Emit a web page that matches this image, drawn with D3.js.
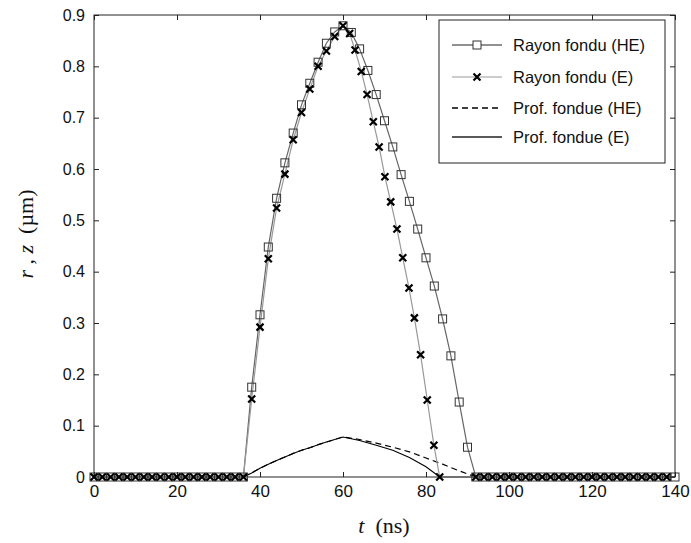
<!DOCTYPE html>
<html><head><meta charset="utf-8">
<script src="https://cdn.jsdelivr.net/npm/d3@7"></script>
<style>body{margin:0;background:#fff}</style>
</head><body><svg id="c" width="691" height="543"></svg>
<script>
// ---- data ----
const heTimes = [0,2,4,6,8,10,12,14,16,18,20,22,24,26,28,30,32,34,36,38,40,42,44,46,48,50,52,54,56,58,60,62,64,66,68,70,72,74,76,78,80,82,84,86,88,90,92,94,96,98,100,102,104,106,108,110,112,114,116,118,120,122,124,126,128,130,132,134,136,138,140];
const heRadius = [0,0,0,0,0,0,0,0,0,0,0,0,0,0,0,0,0,0,0,0.175,0.316,0.448,0.543,0.612,0.67,0.725,0.767,0.808,0.845,0.867,0.879,0.866,0.834,0.792,0.745,0.694,0.643,0.589,0.537,0.483,0.427,0.372,0.308,0.236,0.146,0.058,0,0,0,0,0,0,0,0,0,0,0,0,0,0,0,0,0,0,0,0,0,0,0,0,0];
const eTimes = [0,2,4,6,8,10,12,14,16,18,20,22,24,26,28,30,32,34,36,38,40,42,44,46,48,50,52,54,56,58,60,61.6,62.9,64.4,65.8,67.3,68.7,70.1,71.5,73.0,74.4,75.9,77.2,78.7,80.3,81.9,83.3,92,94,96,98,100,102,104,106,108,110,112,114,116,118,120,122,124,126,128,130,132,134,136,138,140];
const eRadius = [0,0,0,0,0,0,0,0,0,0,0,0,0,0,0,0,0,0,0,0.152,0.292,0.425,0.524,0.59,0.657,0.71,0.756,0.8,0.83,0.858,0.879,0.864,0.832,0.79,0.745,0.692,0.643,0.585,0.536,0.483,0.427,0.368,0.31,0.238,0.15,0.062,0,0,0,0,0,0,0,0,0,0,0,0,0,0,0,0,0,0,0,0,0,0,0,0,0];
const depthHETimes = [0,36,38,40,42,44,46,48,50,52,54,56,58,60,64,68,72,76,80,84,88,92,140];
const depthHE = [0,0,0.008,0.017,0.025,0.032,0.039,0.046,0.052,0.057,0.063,0.068,0.073,0.078,0.073,0.066,0.058,0.049,0.037,0.025,0.012,0,0];
const depthETimes = [0,36,38,40,42,44,46,48,50,52,54,56,58,60,64,68,72,76,80,83.3,140];
const depthE = [0,0,0.008,0.017,0.025,0.032,0.039,0.046,0.052,0.057,0.063,0.068,0.073,0.078,0.071,0.062,0.052,0.038,0.02,0,0];
const xTicks = [0,20,40,60,80,100,120,140];
const yTicks = [0,0.1,0.2,0.3,0.4,0.5,0.6,0.7,0.8,0.9];
const legendLabels = ["Rayon fondu (HE)","Rayon fondu (E)","Prof. fondue (HE)","Prof. fondue (E)"];

// ---- chart ----
const svg = d3.select("#c");
const L=94, R=675, T=15, B=477;
const x = d3.scaleLinear().domain([0,140]).range([L,R]);
const y = d3.scaleLinear().domain([0,0.9]).range([B,T]);
const font = "'Liberation Sans', Arial, sans-serif";

const g = svg.append("g");
g.append("rect").attr("x",L).attr("y",T).attr("width",R-L).attr("height",B-T)
 .attr("fill","none").attr("stroke","#222").attr("stroke-width",1);

const axB = g.append("g").attr("transform",`translate(0,${B})`)
  .call(d3.axisBottom(x).tickValues(xTicks).tickSize(-5).tickPadding(8).tickFormat(d3.format("d")));
const axT = g.append("g").attr("transform",`translate(0,${T})`)
  .call(d3.axisTop(x).tickValues(xTicks).tickSize(-5).tickFormat(""));
const axL = g.append("g").attr("transform",`translate(${L},0)`)
  .call(d3.axisLeft(y).tickValues(yTicks).tickSize(-5).tickPadding(9).tickFormat(d=>d===0?"0":d3.format(".1f")(d)));
const axR = g.append("g").attr("transform",`translate(${R},0)`)
  .call(d3.axisRight(y).tickValues(yTicks).tickSize(-5).tickFormat(""));
[axB,axT,axL,axR].forEach(a=>{
  a.select(".domain").remove();
  a.selectAll("line").attr("stroke","#222");
  a.selectAll("text").attr("font-family",font).attr("font-size",16).attr("fill","#111");
});
axB.selectAll("text").attr("font-size",17);

const line = d3.line().x(d=>x(d[0])).y(d=>y(d[1]));
const heData = heTimes.map((t,i)=>[t,heRadius[i]]);
const eData = eTimes.map((t,i)=>[t,eRadius[i]]);
const dHE = depthHETimes.map((t,i)=>[t,depthHE[i]]);
const dE = depthETimes.map((t,i)=>[t,depthE[i]]);

g.append("path").datum(dE).attr("d",line).attr("fill","none").attr("stroke","#000").attr("stroke-width",1.1);
g.append("path").datum(dHE).attr("d",line).attr("fill","none").attr("stroke","#000").attr("stroke-width",1.2).attr("stroke-dasharray","6,4");

g.append("path").datum(heData).attr("d",line).attr("fill","none").attr("stroke","#666").attr("stroke-width",1.2);
g.append("path").datum(eData).attr("d",line).attr("fill","none").attr("stroke","#999").attr("stroke-width",1.2);

const sq = 8;
g.append("g").selectAll("rect").data(heData).join("rect")
  .attr("x",d=>x(d[0])-sq/2).attr("y",d=>y(d[1])-sq/2).attr("width",sq).attr("height",sq)
  .attr("fill","none").attr("stroke","#333").attr("stroke-width",1);
const xs = 3.5;
const xMark = (sel,cx,cy)=>sel.append("path")
  .attr("d",`M${cx-xs},${cy-xs}L${cx+xs},${cy+xs}M${cx-xs},${cy+xs}L${cx+xs},${cy-xs}`)
  .attr("stroke","#000").attr("stroke-width",2.2);
const xg = g.append("g");
eData.forEach(d=>xMark(xg,x(d[0]),y(d[1])));

// legend
const lg = svg.append("g");
lg.append("rect").attr("x",439).attr("y",20).attr("width",226).attr("height",143)
  .attr("fill","#fff").attr("stroke","#222").attr("stroke-width",1);
const rows=[45,77,108,137];
const lx0=452, lx1=502;
legendLabels.forEach((lab,i)=>{
  lg.append("text").attr("x",513).attr("y",rows[i]+6).text(lab)
    .attr("font-family",font).attr("font-size",16.5).attr("fill","#111");
});
lg.append("line").attr("x1",lx0).attr("x2",lx1).attr("y1",rows[0]).attr("y2",rows[0]).attr("stroke","#222").attr("stroke-width",1);
lg.append("rect").attr("x",(lx0+lx1)/2-sq/2).attr("y",rows[0]-sq/2).attr("width",sq).attr("height",sq).attr("fill","#fff").attr("stroke","#333");
lg.append("line").attr("x1",lx0).attr("x2",lx1).attr("y1",rows[1]).attr("y2",rows[1]).attr("stroke","#999").attr("stroke-width",1.2);
xMark(lg,(lx0+lx1)/2,rows[1]);
lg.append("line").attr("x1",lx0).attr("x2",lx1).attr("y1",rows[2]).attr("y2",rows[2]).attr("stroke","#000").attr("stroke-width",1.4).attr("stroke-dasharray","6,4");
lg.append("line").attr("x1",lx0).attr("x2",lx1).attr("y1",rows[3]).attr("y2",rows[3]).attr("stroke","#222").attr("stroke-width",1.3);

// axis titles
const serif = "'Liberation Serif','Times New Roman',serif";
const xt = svg.append("text").attr("x",384).attr("y",533).attr("text-anchor","middle")
  .attr("font-family",serif).attr("font-size",22).attr("fill","#111");
xt.append("tspan").attr("font-style","italic").text("t");
xt.append("tspan").text("\u00a0\u00a0(ns)");
const yt = svg.append("text").attr("transform",`translate(33,234) rotate(-90)`).attr("text-anchor","middle")
  .attr("font-family",serif).attr("font-size",22).attr("fill","#111");
yt.append("tspan").attr("font-style","italic").text("r");
yt.append("tspan").text(" , ");
yt.append("tspan").attr("font-style","italic").text("z");
yt.append("tspan").text("\u00a0\u00a0(\u00b5m)");
</script></body></html>
